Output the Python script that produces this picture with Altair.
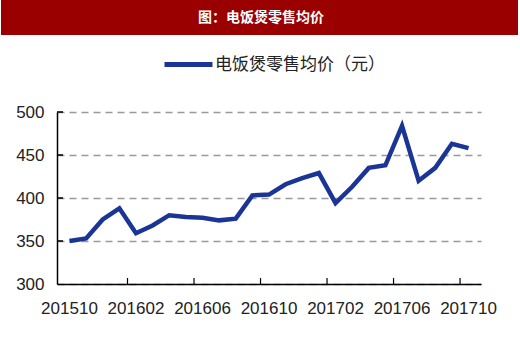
import altair as alt
import pandas as pd

title_text = "图：电饭煲零售均价"
series_name = "电饭煲零售均价（元）"
months = ["201510", "201511", "201512", "201601", "201602", "201603", "201604",
          "201605", "201606", "201607", "201608", "201609", "201610", "201611",
          "201612", "201701", "201702", "201703", "201704", "201705", "201706",
          "201707", "201708", "201709", "201710"]
values = [350, 353, 375, 388, 359, 368, 380, 378, 377, 374, 376, 403, 404, 416,
          423, 429, 394, 413, 435, 438, 484, 420, 435, 463, 458]
x_labels = ["201510", "201602", "201606", "201610", "201702", "201706", "201710"]
y_ticks = [300, 350, 400, 450, 500]

W, H = 424, 172
step = W / len(months)
blue = "#1a3595"
red = "#9a0000"
num_font = "Liberation Sans"
cjk_font = "Noto Sans CJK SC"

df = pd.DataFrame({"month": months, "value": values, "series": series_name})

xscale = alt.Scale(domain=months, padding=0.5)
yscale = alt.Scale(domain=[300, 500], nice=False, zero=False)

line = alt.Chart(df).mark_line(strokeWidth=4.5, strokeJoin="miter").encode(
    x=alt.X("month:O", scale=xscale, sort=None,
            axis=alt.Axis(values=x_labels, labelAngle=0, ticks=False, title=None,
                          labelPadding=16, labelFontSize=17, labelFont=num_font,
                          labelColor="#222", domainColor="#000", domainWidth=1.5,
                          grid=False, labelOverlap=False)),
    y=alt.Y("value:Q", scale=yscale,
            axis=alt.Axis(values=y_ticks, ticks=False, title=None, labelPadding=13,
                          labelFontSize=17, labelFont=num_font, labelColor="#222",
                          domainColor="#000", domainWidth=1.5, grid=True,
                          gridColor="#999", gridDash=[7, 5], gridWidth=1.5)),
    color=alt.Color("series:N", scale=alt.Scale(range=[blue]),
                    legend=alt.Legend(title=None, orient="none", legendX=105,
                                      legendY=-74, symbolType="stroke",
                                      symbolSize=2304, symbolStrokeWidth=5,
                                      labelFont=cjk_font, labelFontSize=17,
                                      labelColor="#222", labelOffset=0,
                                      labelLimit=0, padding=0)),
)

xtick_df = pd.DataFrame({"month": x_labels[1:]})
xticks = alt.Chart(xtick_df).mark_rule(color="#000", strokeWidth=1.2,
                                       xOffset=-step / 2).encode(
    x=alt.X("month:O", scale=xscale, sort=None),
    y=alt.datum(300),
    y2=alt.datum(307),
)

ytick_df = pd.DataFrame({"v": y_ticks[1:]})
yticks = alt.Chart(ytick_df).mark_rule(color="#000", strokeWidth=1.5).encode(
    y=alt.Y("v:Q", scale=yscale),
    x=alt.value(0),
    x2=alt.value(6),
)

hdr_df = pd.DataFrame({"t": [title_text]})
bar = alt.Chart(hdr_df).mark_rect(color=red).encode(
    x=alt.value(-56), x2=alt.value(461), y=alt.value(-112), y2=alt.value(-77)
)
htext = alt.Chart(hdr_df).mark_text(color="white", font=cjk_font, fontSize=14,
                                    fontWeight="bold", align="center",
                                    baseline="middle").encode(
    x=alt.value(204), y=alt.value(-94.5), text="t:N"
)

chart = alt.layer(bar, htext, line, xticks, yticks).properties(
    width=W, height=H,
    padding={"left": 57, "top": 112, "right": 39, "bottom": 53},
    autosize=alt.AutoSizeParams(type="none"),
    background="white",
).configure_view(stroke=None)

chart.save("out.html", embed_options={"renderer": "svg", "actions": False})
